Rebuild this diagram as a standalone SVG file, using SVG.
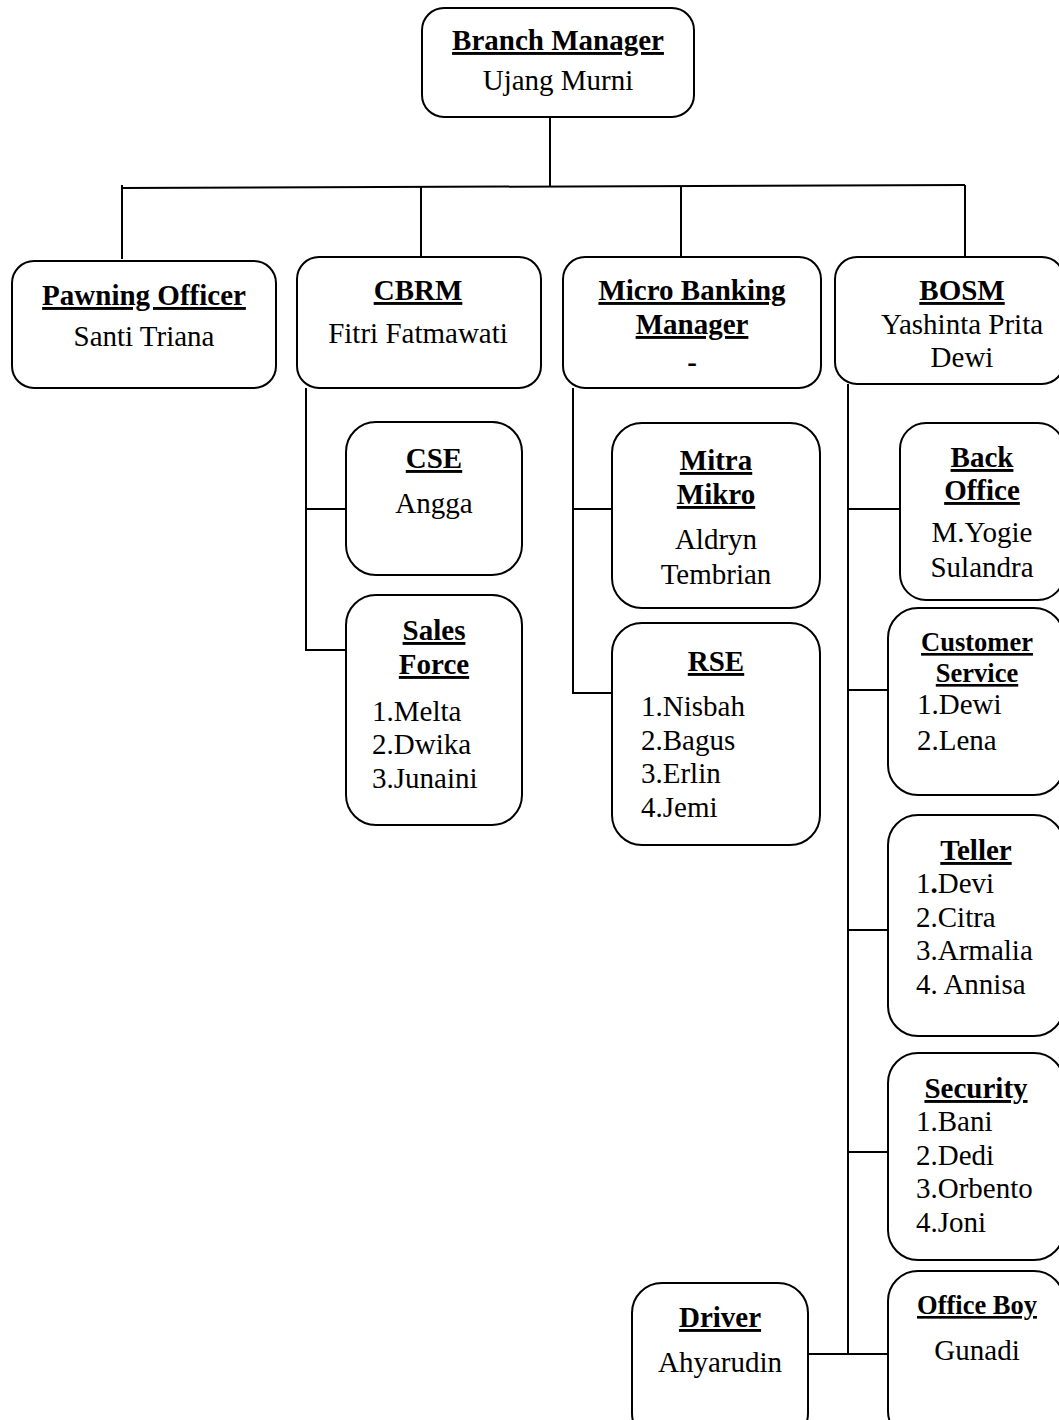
<svg xmlns="http://www.w3.org/2000/svg" width="1059" height="1420" viewBox="0 0 1059 1420">
<style>
.box{fill:#fff;stroke:#000;stroke-width:2}
.ln{stroke:#000;stroke-width:2;fill:none}
text{font-family:"Liberation Serif","Times New Roman",serif;font-size:29px;fill:#000}
.t{font-weight:bold;text-decoration:underline;text-anchor:middle}
.c{text-anchor:middle}
.s{font-size:26.5px}
</style>
<rect width="1059" height="1420" fill="#fff"/>
<g id="connectors">
<path class="ln" d="M550 117V186"/>
<path class="ln" d="M122 188L965 185"/>
<path class="ln" d="M122 185V259"/>
<path class="ln" d="M421 187V257"/>
<path class="ln" d="M681 187V257"/>
<path class="ln" d="M965 185V257"/>
<path class="ln" d="M306 388V650H346M306 509H346"/>
<path class="ln" d="M573 388V693H612M573 509H612"/>
<path class="ln" d="M848 384V1354M848 509H900M848 690H888M848 930H888M848 1152H888M808 1354H888"/>
</g>
<g id="branch-manager"><rect class="box" x="422" y="8" width="272" height="109" rx="22"/>
<text class="t" x="558" y="50">Branch Manager</text><text class="c" x="558" y="90">Ujang Murni</text></g>
<g id="pawning-officer"><rect class="box" x="12" y="261" width="264" height="127" rx="22"/>
<text class="t" x="144" y="305">Pawning Officer</text><text class="c" x="144" y="346">Santi Triana</text></g>
<g id="cbrm"><rect class="box" x="297" y="257" width="244" height="131" rx="22"/>
<text class="t" x="418" y="300">CBRM</text><text class="c" x="418" y="343">Fitri Fatmawati</text></g>
<g id="micro-banking-manager"><rect class="box" x="563" y="257" width="258" height="131" rx="22"/>
<text class="t" x="692" y="300">Micro Banking</text><text class="t" x="692" y="334">Manager</text><text class="c" x="692" y="372" font-weight="bold">-</text></g>
<g id="bosm"><rect class="box" x="835" y="257" width="229" height="127" rx="22"/>
<text class="t" x="962" y="300">BOSM</text><text class="c" x="962" y="334">Yashinta Prita</text><text class="c" x="962" y="367">Dewi</text></g>
<g id="cse"><rect class="box" x="346" y="422" width="176" height="153" rx="30"/>
<text class="t" x="434" y="468">CSE</text><text class="c" x="434" y="513">Angga</text></g>
<g id="sales-force"><rect class="box" x="346" y="595" width="176" height="230" rx="30"/>
<text class="t" x="434" y="640">Sales</text><text class="t" x="434" y="674">Force</text>
<text x="372" y="721">1.Melta</text><text x="372" y="754">2.Dwika</text><text x="372" y="788">3.Junaini</text></g>
<g id="mitra-mikro"><rect class="box" x="612" y="423" width="208" height="185" rx="30"/>
<text class="t" x="716" y="470">Mitra</text><text class="t" x="716" y="504">Mikro</text>
<text class="c" x="716" y="549">Aldryn</text><text class="c" x="716" y="584">Tembrian</text></g>
<g id="rse"><rect class="box" x="612" y="623" width="208" height="222" rx="30"/>
<text class="t" x="716" y="671">RSE</text>
<text x="641" y="716">1.Nisbah</text><text x="641" y="750">2.Bagus</text><text x="641" y="783">3.Erlin</text><text x="641" y="817">4.Jemi</text></g>
<g id="back-office"><rect class="box" x="900" y="423" width="164" height="177" rx="26"/>
<text class="t" x="982" y="467">Back</text><text class="t" x="982" y="500">Office</text>
<text class="c" x="982" y="542">M.Yogie</text><text class="c" x="982" y="577">Sulandra</text></g>
<g id="customer-service"><rect class="box" x="888" y="608" width="176" height="187" rx="30"/>
<text class="t s" x="977" y="651">Customer</text><text class="t s" x="977" y="682">Service</text>
<text x="917" y="714">1.Dewi</text><text x="917" y="750">2.Lena</text></g>
<g id="teller"><rect class="box" x="888" y="815" width="176" height="221" rx="30"/>
<text class="t" x="976" y="860">Teller</text>
<text x="916" y="893">1<tspan font-weight="bold">.</tspan>Devi</text><text x="916" y="927">2.Citra</text><text x="916" y="960">3.Armalia</text><text x="916" y="994">4. Annisa</text></g>
<g id="security"><rect class="box" x="888" y="1053" width="176" height="207" rx="30"/>
<text class="t" x="976" y="1098">Security</text>
<text x="916" y="1131">1.Bani</text><text x="916" y="1165">2.Dedi</text><text x="916" y="1198">3.Orbento</text><text x="916" y="1232">4.Joni</text></g>
<g id="office-boy"><rect class="box" x="888" y="1271" width="176" height="170" rx="30"/>
<text class="t s" x="977" y="1314">Office Boy</text><text class="c" x="977" y="1360">Gunadi</text></g>
<g id="driver"><rect class="box" x="632" y="1283" width="176" height="160" rx="30"/>
<text class="t" x="720" y="1327">Driver</text><text class="c" x="720" y="1372">Ahyarudin</text></g>
</svg>
